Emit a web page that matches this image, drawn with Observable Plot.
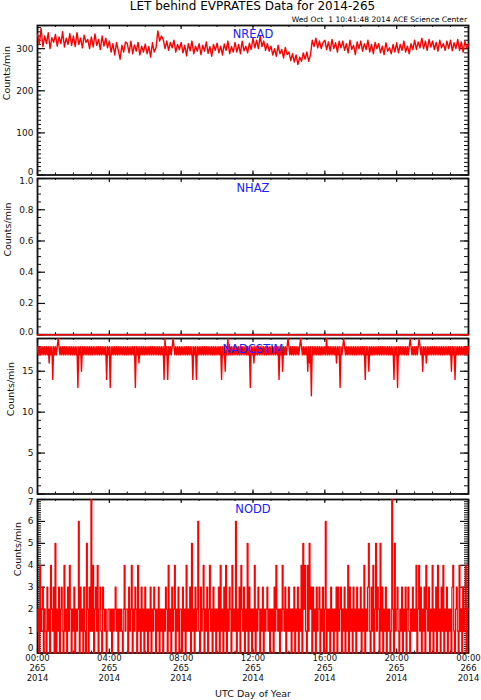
<!DOCTYPE html>
<html><head><meta charset="utf-8">
<script src="https://cdn.jsdelivr.net/npm/d3@7"></script>
<script src="https://cdn.jsdelivr.net/npm/@observablehq/plot@0.6"></script>
<style>
body{margin:0;background:#fff;}
#wrap{position:relative;width:481px;height:700px;overflow:hidden;font-family:"DejaVu Sans",sans-serif;color:#000;}
.panel{position:absolute;left:0;}
#title{position:absolute;left:0;width:505px;top:0;text-align:center;font-size:12px;line-height:12px;white-space:pre;}
#subtitle{position:absolute;right:14px;top:16px;font-size:7.5px;line-height:7.5px;white-space:pre;}
</style></head>
<body>
<div id="wrap">
  <div id="title"></div>
  <div id="subtitle"></div>
</div>
<script>
const titleText = "LET behind EVPRATES Data for 2014-265";
const subtitleText = "Wed Oct  1 10:41:48 2014 ACE Science Center";
const panelNames = ["NREAD", "NHAZ", "NADCSTIM", "NODD"];
const yAxisLabel = "Counts/min";
const xAxisLabel = "UTC Day of Year";

// x axis (hours of day 265)
const xMajor = [0, 4, 8, 12, 16, 20, 24];
const xTickLabels = ["00:00\n265\n2014", "04:00\n265\n2014", "08:00\n265\n2014", "12:00\n265\n2014",
                     "16:00\n265\n2014", "20:00\n265\n2014", "00:00\n266\n2014"];
const xMinor = [0,1,2,3,4,5,6,7,8,9,10,11,12,13,14,15,16,17,18,19,20,21,22,23,24];

// y ticks per panel
const yTicks1 = [0, 100, 200, 300];
const yTicks2 = [0, 0.2, 0.4, 0.6, 0.8, 1.0];
const yTicks3 = [0, 5, 10, 15];
const yTicks4 = [0, 1, 2, 3, 4, 5, 6, 7];

// NREAD, 6-minute samples over the day
const nread = [
 335,310,348,305,330,312,338,300,326,315,
 334,306,328,312,340,304,325,310,336,308,
 330,305,338,310,325,302,332,315,322,300,
 328,304,335,308,322,298,330,306,325,302,
 318,292,312,285,315,296,275,308,292,316,
 312,290,318,288,309,294,315,285,306,292,
 311,288,305,280,314,292,302,342,318,330,
 322,300,318,296,315,302,320,292,310,298,
 315,290,308,283,312,295,318,288,306,294,
 312,286,308,294,316,289,305,282,310,296,
 313,290,306,285,311,296,318,288,305,292,
 315,292,310,288,318,295,306,290,313,298,
 325,302,320,300,330,305,318,296,312,294,
 306,285,300,282,308,288,298,278,303,286,
 292,272,288,268,285,262,280,270,290,275,
 292,270,285,320,305,325,302,318,300,315,
 320,298,316,295,322,300,314,292,318,302,
 318,296,312,290,320,298,308,286,316,300,
 318,294,312,298,320,292,310,288,315,300,
 312,290,306,286,314,294,302,288,310,292,
 314,290,310,296,318,292,306,288,312,298,
 320,298,316,302,325,300,318,296,322,304,
 318,298,315,294,320,302,312,296,318,300,
 320,295,314,300,322,296,316,292,318,302,
 310];

// NHAZ, hourly
const nhaz = [0,0,0,0,0,0,0,0,0,0,0,0,0,0,0,0,0,0,0,0,0,0,0,0,0];

// NADCSTIM, 3-minute samples
const nadcstim = [
 18,17,18,17,18,17,18,17,18,17,18,17,18,16,18,17,18,14,18,17,
 18,17,18,19,18,17,18,17,18,17,18,17,18,17,18,17,18,17,18,17,
 18,17,18,17,18,13,18,17,18,15,18,17,18,17,18,17,18,17,18,17,
 18,17,18,17,18,17,18,17,18,17,18,17,18,17,18,17,18,14,18,17,
 18,13,18,17,18,17,18,17,18,17,18,17,18,17,18,17,18,17,18,17,
 18,17,18,17,18,17,18,17,18,13,18,17,18,16,18,17,18,17,18,17,
 18,17,18,17,18,17,18,17,18,17,18,17,18,17,18,17,18,17,18,17,
 18,14,19,17,18,14,18,17,18,17,18,19,18,17,18,17,18,17,18,17,
 18,17,18,17,18,17,18,17,18,17,18,17,18,14,18,17,18,14,18,17,
 18,17,18,17,18,17,18,17,18,17,18,17,18,17,18,17,18,17,18,17,
 18,17,18,17,18,14,18,17,18,15,18,17,19,17,18,17,18,17,18,17,
 18,17,18,17,18,17,18,17,18,17,18,17,18,17,18,17,18,13,18,17,
 18,16,18,17,18,17,18,17,18,17,18,17,18,17,18,17,18,17,18,17,
 18,17,18,17,18,17,18,17,18,14,18,17,18,15,18,17,18,17,18,19,
 18,17,18,17,18,17,18,17,18,17,18,17,18,19,18,17,18,17,18,17,
 18,15,18,16,18,12,18,17,18,17,18,17,18,17,18,17,18,17,18,17,
 18,17,19,17,18,17,18,17,18,17,18,17,18,16,18,17,18,13,18,17,
 18,19,18,17,18,17,18,17,18,17,18,17,18,17,18,17,18,17,18,17,
 18,17,18,17,18,14,18,17,18,15,18,17,18,17,18,17,18,17,18,17,
 18,17,18,17,18,17,18,17,18,17,18,17,18,17,18,17,18,14,18,17,
 18,13,18,17,18,17,18,17,18,17,18,17,18,17,18,19,18,17,18,17,
 18,17,18,17,18,19,18,17,18,15,18,17,18,16,18,17,18,17,18,17,
 18,17,18,17,18,17,18,17,18,17,18,17,18,17,18,17,18,17,18,17,
 18,15,18,17,18,14,18,17,18,17,18,17,18,17,18,17,18,17,18,17,
 18];

// NODD, 3-minute samples
const nodd = [
 1,2,0,4,1,2,3,0,2,1,0,3,1,2,0,4,2,1,3,0,
 5,0,2,1,3,0,2,3,1,0,4,1,2,0,3,1,4,2,0,2,
 1,3,0,2,1,2,6,0,3,1,2,0,3,1,0,5,2,0,3,1,
 7,1,4,0,2,3,1,4,0,2,3,1,0,3,2,1,2,0,1,2,
 2,1,2,0,2,1,2,3,1,2,0,2,1,2,1,0,2,4,1,2,
 2,0,3,1,2,4,0,2,1,3,2,0,4,1,2,0,3,1,2,0,
 3,1,2,0,2,1,3,0,2,1,3,2,0,2,1,3,0,2,1,2,
 0,2,1,3,2,0,4,1,2,0,3,1,2,4,0,2,1,3,0,2,
 2,0,3,1,2,0,4,1,2,1,3,0,5,1,2,0,3,1,2,6,
 1,0,3,1,2,4,0,2,1,3,0,2,4,1,2,0,3,1,2,0,
 2,1,3,0,4,1,2,0,3,1,4,0,2,1,3,2,0,4,1,2,
 1,6,0,2,1,3,0,4,2,1,3,0,2,1,5,0,3,1,2,0,
 2,1,4,0,2,1,3,2,0,2,1,3,0,2,1,2,3,1,2,0,
 2,1,2,0,3,1,4,2,1,2,0,2,1,4,2,1,3,0,2,1,
 3,1,2,0,2,1,3,0,2,1,3,0,2,1,4,0,5,2,4,1,
 0,4,1,5,2,3,0,3,1,2,0,3,1,2,3,0,2,1,3,0,
 2,6,0,2,1,2,0,3,1,2,0,2,1,3,0,3,1,2,3,0,
 2,1,3,0,2,1,4,0,3,1,2,0,3,1,2,0,3,1,2,1,
 3,0,2,1,4,0,2,1,3,5,1,0,3,1,4,0,2,5,1,3,
 2,0,5,1,3,0,2,1,3,0,2,1,2,0,1,7,2,0,5,1,
 2,3,1,0,2,1,3,0,2,1,3,0,2,3,1,0,2,1,3,1,
 2,1,4,0,2,4,1,3,0,2,1,3,0,4,2,1,3,0,2,1,
 4,0,2,1,3,0,4,1,2,0,3,1,4,0,2,1,3,0,2,1,
 2,0,3,4,1,0,2,3,1,0,4,1,2,0,3,1,2,4,0,2,
 2];

document.getElementById("title").textContent = titleText;
document.getElementById("subtitle").textContent = subtitleText;

const W = 481, ML = 37, MR = 13, PW = W - ML - MR;

function panel({values, yDomain, yMajor, yMinor, yFormat, name, nameDy, labelDx, frameTop, frameBottom, curve, strokeWidth, xAxis, bottomDy = -3}) {
  const mt = 10, mb = xAxis ? 50 : 10;
  const h = frameBottom - frameTop;
  const n = values.length;
  const data = values.map((v, i) => ({t: i * 24 / (n - 1), v}));
  const bottomLab = yMajor.filter(d => d === yDomain[0]);
  const topLab = yMajor.filter(d => d === yDomain[1]);
  const midLab = yMajor.filter(d => d !== yDomain[0] && d !== yDomain[1]);
  const labOpts = (dy) => ({y: d => d, text: d => yFormat(d), frameAnchor: "left", dx: -4, dy, textAnchor: "end", fontSize: 9, fill: "#111"});
  const marks = [
    Plot.ruleY(yMinor, {y: d => d, insetRight: PW - 4, stroke: "#111", strokeWidth: 1}),
    Plot.ruleY(yMinor, {y: d => d, insetLeft: PW - 4, stroke: "#111", strokeWidth: 1}),
    Plot.ruleY(yMajor, {y: d => d, insetRight: PW - 8, stroke: "#111", strokeWidth: 1.2}),
    Plot.ruleY(yMajor, {y: d => d, insetLeft: PW - 8, stroke: "#111", strokeWidth: 1.2}),
    Plot.ruleX(xMinor, {x: d => d, insetBottom: h - 2, stroke: "#111", strokeWidth: 1}),
    Plot.ruleX(xMinor, {x: d => d, insetTop: h - 2, stroke: "#111", strokeWidth: 1}),
    Plot.ruleX(xMajor, {x: d => d, insetBottom: h - 4, stroke: "#111", strokeWidth: 1.2}),
    Plot.ruleX(xMajor, {x: d => d, insetTop: h - 4, stroke: "#111", strokeWidth: 1.2}),
    Plot.text(bottomLab, labOpts(bottomDy)),
    Plot.text(midLab, labOpts(0)),
    Plot.text(topLab, labOpts(2.5)),
    Plot.frame({stroke: "#111", strokeWidth: 1.8}),
    Plot.line(data, {x: "t", y: "v", stroke: "#ff0000", strokeWidth, curve}),
    Plot.text([name], {frameAnchor: "top", lineAnchor: "middle", dy: nameDy, fill: "#2020ff", fontSize: 11.5}),
    Plot.text([yAxisLabel], {frameAnchor: "left", dx: labelDx, rotate: -90, fontSize: 9.5, fill: "#111"})
  ];
  if (xAxis) {
    marks.push(Plot.axisX({ticks: xMajor, tickSize: 0, tickPadding: 1.5, fontSize: 8.5, lineHeight: 1.15,
      tickFormat: d => xTickLabels[xMajor.indexOf(d)], label: null, fill: "#111"}));
    marks.push(Plot.text([xAxisLabel], {frameAnchor: "bottom", lineAnchor: "middle", dy: 41, fontSize: 9.5, fill: "#111"}));
  }
  const chart = Plot.plot({
    width: W, height: h + mt + mb,
    marginLeft: ML, marginRight: MR, marginTop: mt, marginBottom: mb,
    x: {domain: [0, 24], axis: xAxis ? undefined : null},
    y: {domain: yDomain, axis: null},
    style: {overflow: "visible", fontFamily: "DejaVu Sans, sans-serif", background: "transparent"},
    marks
  });
  const div = document.createElement("div");
  div.className = "panel";
  div.style.top = (frameTop - mt) + "px";
  div.appendChild(chart);
  document.getElementById("wrap").appendChild(div);
}

panel({values: nread, yDomain: [0, 355], yMajor: yTicks1, yMinor: d3.range(0, 355, 10), yFormat: d => String(d),
  name: panelNames[0], nameDy: 9, labelDx: -31, frameTop: 25, frameBottom: 174.5, curve: "linear", strokeWidth: 1.4});
panel({values: nhaz, yDomain: [0, 1], yMajor: yTicks2, yMinor: d3.range(0, 1.0001, 0.05), yFormat: d => d.toFixed(1),
  name: panelNames[1], nameDy: 9.5, labelDx: -29.5, frameTop: 178.3, frameBottom: 334.5, curve: "linear", strokeWidth: 1.5});
panel({values: nadcstim, yDomain: [0, 19], yMajor: yTicks3, yMinor: d3.range(0, 19.5, 1), yFormat: d => String(d),
  name: panelNames[2], nameDy: 10.4, labelDx: -26.5, frameTop: 338.3, frameBottom: 493.8, curve: "linear", strokeWidth: 1.4});
panel({values: nodd, yDomain: [0, 7], yMajor: yTicks4, yMinor: d3.range(0, 7.001, 0.1), yFormat: d => String(d),
  name: panelNames[3], nameDy: 9.5, labelDx: -20, frameTop: 498.5, frameBottom: 652, curve: "step", strokeWidth: 1.2, xAxis: true, bottomDy: -4.5});
</script>
</body></html>
